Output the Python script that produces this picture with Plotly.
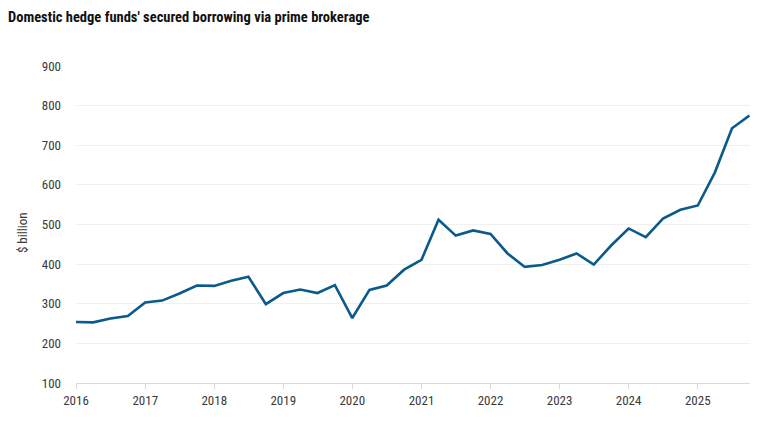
import pandas as pd
import plotly.graph_objects as go

# quarterly observations, 2016 Q1 - 2025 Q4
dates = pd.date_range("2016-01-01", "2025-10-01", freq="QS").strftime("%Y-%m-%d").tolist()
borrowing = [254, 253, 263, 269, 303, 308, 326, 346, 345, 358,
             368, 299, 327, 336, 327, 347, 264, 335, 346, 386,
             411, 512, 472, 485, 476, 427, 393, 398, 411, 427,
             399, 447, 490, 468, 515, 537, 548, 631, 743, 775]

year_ticks = [f"{y}-01-01" for y in range(2016, 2026)]
year_labels = [str(y) for y in range(2016, 2026)]
y_ticks = [100, 200, 300, 400, 500, 600, 700, 800, 900]

FONT = "Roboto Condensed, Liberation Sans Narrow, Roboto, sans-serif"

# page body keeps its default 8px margin, so the figure is sized to fit inside the window
fig = go.Figure()
fig.add_trace(go.Scatter(
    x=dates,
    y=borrowing,
    mode="lines",
    line=dict(color="#0b5a8c", width=2.6),
    showlegend=False,
    hoverinfo="x+y",
))

fig.update_layout(
    width=750,
    height=413,
    margin=dict(l=68, r=5, t=58, b=38),
    paper_bgcolor="white",
    plot_bgcolor="white",
    font=dict(family=FONT, size=13, color="#3a3a3a"),
    title=dict(
        text="<b>Domestic hedge funds' secured borrowing via prime brokerage</b>",
        font=dict(family=FONT, size=14.5, color="#111111"),
        xref="container", yref="container",
        x=0.0, y=1 - 9 / 413,
        xanchor="left", yanchor="middle",
    ),
)

# y-axis title sits a little below the plot's middle, so place it as an annotation
fig.add_annotation(
    text="$ billion",
    textangle=-90,
    xref="paper", yref="paper",
    x=0, y=0.473,
    xshift=-54,
    xanchor="center", yanchor="middle",
    showarrow=False,
    font=dict(family=FONT, size=13, color="#3a3a3a"),
)

fig.update_xaxes(
    type="date",
    range=["2016-01-01", "2025-10-20"],
    tickvals=year_ticks,
    ticktext=year_labels,
    showgrid=False,
    showline=True,
    linecolor="#d9d9d9",
    linewidth=1,
    ticks="outside",
    ticklen=5,
    tickcolor="#d9d9d9",
    tickfont=dict(size=13, color="#3a3a3a"),
    zeroline=False,
)

fig.update_yaxes(
    range=[100, 900],
    tickvals=y_ticks,
    showgrid=True,
    gridcolor="#f0f0f0",
    gridwidth=1,
    showline=False,
    zeroline=False,
    ticks="",
    ticklabelstandoff=14,
    tickfont=dict(size=13, color="#3a3a3a"),
)

fig.write_html("out.html")
